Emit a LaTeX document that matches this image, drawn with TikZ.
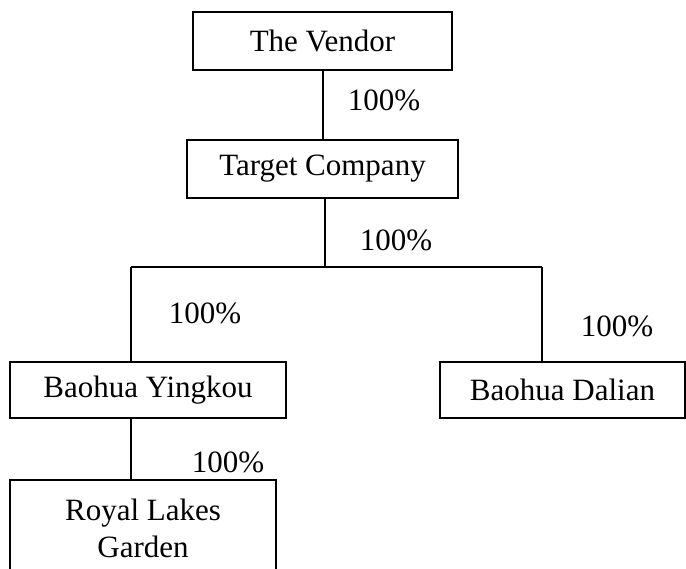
\documentclass[tikz,border=0pt]{standalone}
\usepackage{fontspec}
\setmainfont{Liberation Serif}
\usetikzlibrary{positioning}

\begin{document}
\begin{tikzpicture}[
            x = 1pt, y = -1pt,
            font = \fontsize{31}{37}\selectfont,
            box/.style = {rectangle, draw, line width=1.4pt, inner sep=0pt, align=center},
            link/.style = {draw, line width=1.3pt},
            share/.style = {inner sep=0pt}
        ]
            \clip (0,0) rectangle (686,569);

            % Boxes
            \node[box, minimum width=259pt, minimum height=58pt] (V) at (322.5,41) {The Vendor};
            \node[box, minimum width=271pt, minimum height=58pt] (T) at (322.5,169) {Target Company};
            \node[box, minimum width=276pt, minimum height=56pt] (Y) at (148,390) {Baohua Yingkou};
            \node[box, minimum width=245pt, minimum height=56pt] (D) at (562.5,390) {Baohua Dalian};
            \node[box, minimum width=266pt, minimum height=96pt] (R) at (143,528) {Royal Lakes\\Garden};

            % Branch points
            \coordinate (split) at (325,267);
            \coordinate (leftbar) at (131,267);
            \coordinate (rightbar) at (542,267);

            % Links
            \path[link] (V.south -| 323,0) -- (T.north -| 323,0);
            \path[link] (T.south -| split) -- (split);
            \path[link] (leftbar) -- (rightbar);
            \path[link] (leftbar) -- (leftbar |- Y.north);
            \path[link] (rightbar) -- (rightbar |- D.north);
            \path[link] (leftbar |- Y.south) -- (leftbar |- R.north);

            % Shares
            \node[share] (sV) at (384,100) {100\%};
            \node[share] (sT) at (396,240) {100\%};
            \node[share] (sY) at (205,313) {100\%};
            \node[share] (sD) at (617,326) {100\%};
            \node[share] (sR) at (228,462) {100\%};

        \end{tikzpicture}
\end{document}
